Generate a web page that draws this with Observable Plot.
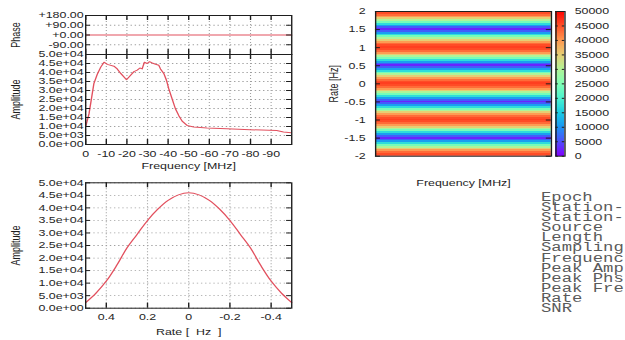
<!DOCTYPE html>
<html><head><meta charset="utf-8">
<script src="https://cdn.jsdelivr.net/npm/d3@7"></script>
<script src="https://cdn.jsdelivr.net/npm/@observablehq/plot@0.6"></script>
<style>
html,body{margin:0;padding:0;background:#fff;overflow:hidden;width:625px;height:340px;}
#fig{position:absolute;left:0;top:0;width:453px;height:340px;transform:scaleX(1.38);transform-origin:0 0;}
#info{position:absolute;font-family:"Liberation Mono","Courier New",monospace;font-size:12.5px;line-height:10.1px;color:#5a5a5a;white-space:pre;margin:0;}
</style></head><body><div id="fig"></div>
<script>
// ---------- data ----------
const freqDomain = [0, -100];
const freqTicks = [0, -10, -20, -30, -40, -50, -60, -70, -80, -90];
const freqTickLabels = ["0", "-10", "-20", "-30", "-40", "-50", "-60", "-70", "-80", "-90"];

const phaseTicks = [180, 90, 0, -90];
const phaseTickLabels = ["+180.00", "+90.00", "+0.00", "-90.00"];
const phaseFreq = [0, -100];
const phaseDeg = [0, 0];

const ampTicks = [0, 5000, 10000, 15000, 20000, 25000, 30000, 35000, 40000, 45000, 50000];
const ampTickLabels = ["0.0e+00", "5.0e+03", "1.0e+04", "1.5e+04", "2.0e+04", "2.5e+04", "3.0e+04", "3.5e+04", "4.0e+04", "4.5e+04", "5.0e+04"];

const freqMHz = [0, -1.6, -4, -5.6, -7.3, -8.9, -10.5, -13.7, -15.3, -17, -19.8, -21.8, -23.4, -25, -26.3, -27.4, -28.5, -29.8, -31, -32.3, -33.9, -35.5, -36.3, -37.9, -39.2, -40.3, -41.9, -43.5, -45.2, -46.8, -49.2, -52.4, -58.9, -68.5, -79.8, -92.7, -96, -99.7];
const freqAmp = [10000, 17000, 34000, 39000, 43000, 45700, 44500, 43500, 42000, 39500, 36000, 38500, 40500, 41300, 42500, 42000, 45700, 45000, 46000, 45300, 44600, 44000, 42000, 39500, 35700, 31000, 25500, 20000, 16000, 13000, 10600, 9700, 9100, 8700, 8200, 7800, 6900, 6500];

const rateTicks = [0.4, 0.2, 0, -0.2, -0.4];
const rateTickLabels = ["0.4", "0.2", "0", "-0.2", "-0.4"];
const rateHz = [0.5, 0.45, 0.4, 0.35, 0.3, 0.25, 0.2, 0.15, 0.1, 0.05, 0, -0.05, -0.1, -0.15, -0.2, -0.25, -0.3, -0.35, -0.4, -0.45, -0.5];
const rateAmp = [2200, 6000, 10800, 17000, 24000, 29500, 35000, 39500, 43000, 45200, 46000, 45200, 43000, 39500, 35000, 29500, 24000, 17000, 10800, 6000, 2200];

const heatTicks = [2, 1.5, 1, 0.5, 0, -0.5, -1, -1.5, -2];
const heatTickLabels = ["2", "1.5", "1", "0.5", "0", "-0.5", "-1", "-1.5", "-2"];
const bandCenters = [-2, -1, 0, 1, 2];

const cbTicks = [0, 5000, 10000, 15000, 20000, 25000, 30000, 35000, 40000, 45000, 50000];
const cbTickLabels = ["0", "5000", "10000", "15000", "20000", "25000", "30000", "35000", "40000", "45000", "50000"];
const palette = ["#8000ff", "#4d4ffc", "#1a96f3", "#1acee3", "#4df3ce", "#80ffb4", "#b3f396", "#e6ce74", "#ff964f", "#ff4f28", "#ff0000"];

const infoLabels = ["Epoch", "Station-", "Station-", "Source", "Length", "Sampling", "Frequenc", "Peak Amp", "Peak Phs", "Peak Fre", "Rate", "SNR"];

// ---------- layout / style ----------
const fig = document.getElementById("fig");
const VW = 453, VH = 340;
const FONT = '"Liberation Sans", Arial, Helvetica, sans-serif';
const INK = "#1e1e1e";
const CURVE = "#e2505e";
const GRID = {stroke: "#a0a0a0", strokeOpacity: 1, strokeDasharray: "1,2", strokeWidth: 0.8};
const style = {fontFamily: FONT, fontSize: "9px", color: INK, background: "transparent", overflow: "visible"};

function frameBox(l, t, r, b) {
  return {width: VW, height: VH, marginLeft: l, marginTop: t, marginRight: VW - r, marginBottom: VH - b};
}
function add(p) { p.style.position = "absolute"; p.style.left = "0"; p.style.top = "0"; fig.appendChild(p); }
function yTicksIn(ticks, fw, len) {
  return [Plot.tickY(ticks, {y: d => d, insetRight: fw - len, stroke: INK}),
          Plot.tickY(ticks, {y: d => d, insetLeft: fw - len, stroke: INK})];
}
function xTicksIn(ticks, fh, len) {
  return [Plot.tickX(ticks, {x: d => d, insetTop: fh - len, stroke: INK}),
          Plot.tickX(ticks, {x: d => d, insetBottom: fh - len, stroke: INK})];
}
const lab = (arr, labels) => d => labels[arr.indexOf(d)];
const colorScale = {type: "linear", domain: cbTicks, range: palette};

const L = 61.6, R = 210.9, FW = R - L;

// Phase panel
add(Plot.plot({
  ...frameBox(L, 15, R, 54), style,
  x: {domain: freqDomain, axis: null},
  y: {domain: [-180, 180], axis: null},
  marks: [
    Plot.gridX(freqTicks, GRID),
    Plot.gridY([90, -90], GRID),
    Plot.line(phaseDeg, {x: phaseFreq, y: phaseDeg, stroke: CURVE, strokeWidth: 1}),
    ...yTicksIn(phaseTicks, FW, 3.6),
    ...xTicksIn(freqTicks, 39, 5),
    Plot.frame({stroke: INK}),
    Plot.axisY(phaseTicks, {anchor: "left", tickSize: 0, tickPadding: 1.5, tickFormat: lab(phaseTicks, phaseTickLabels)}),
    Plot.text(["Phase"], {text: d => d, frameAnchor: "left", dx: -50.7, rotate: -90, textAnchor: "middle", lineAnchor: "middle"})
  ]
}));

// Amplitude vs frequency
add(Plot.plot({
  ...frameBox(L, 54, R, 144), style,
  x: {domain: freqDomain, axis: null},
  y: {domain: [0, 50000], axis: null},
  marks: [
    Plot.gridX(freqTicks, GRID),
    Plot.gridY(ampTicks, GRID),
    Plot.line(freqAmp, {x: freqMHz, y: freqAmp, stroke: CURVE, strokeWidth: 1}),
    ...yTicksIn(ampTicks, FW, 3.6),
    ...xTicksIn(freqTicks, 90, 5),
    Plot.frame({stroke: INK}),
    Plot.axisY(ampTicks, {anchor: "left", tickSize: 0, tickPadding: 1.5, tickFormat: lab(ampTicks, ampTickLabels)}),
    Plot.axisX(freqTicks, {anchor: "bottom", tickSize: 0, tickPadding: 6.5, tickFormat: lab(freqTicks, freqTickLabels)}),
    Plot.text(["Amplitude"], {text: d => d, frameAnchor: "left", dx: -50.7, rotate: -90, textAnchor: "middle", lineAnchor: "middle"}),
    Plot.text(["Frequency [MHz]"], {text: d => d, frameAnchor: "bottom", dy: 21.7, lineAnchor: "middle"})
  ]
}));

// Amplitude vs rate
add(Plot.plot({
  ...frameBox(L, 182.3, R, 307.7), style,
  x: {domain: [0.5, -0.5], axis: null},
  y: {domain: [0, 50000], axis: null},
  marks: [
    Plot.gridX(rateTicks, GRID),
    Plot.gridY(ampTicks, GRID),
    Plot.line(rateAmp, {x: rateHz, y: rateAmp, curve: "catmull-rom", stroke: CURVE, strokeWidth: 1}),
    ...yTicksIn(ampTicks, FW, 3.6),
    ...xTicksIn(rateTicks, 125.4, 5),
    Plot.frame({stroke: INK}),
    Plot.axisY(ampTicks, {anchor: "left", tickSize: 0, tickPadding: 1.5, tickFormat: lab(ampTicks, ampTickLabels)}),
    Plot.axisX(rateTicks, {anchor: "bottom", tickSize: 0, tickPadding: 5, tickFormat: lab(rateTicks, rateTickLabels)}),
    Plot.text(["Amplitude"], {text: d => d, frameAnchor: "left", dx: -50.7, rotate: -90, textAnchor: "middle", lineAnchor: "middle"}),
    Plot.text(["Rate [\u00a0\u00a0Hz\u00a0\u00a0]"], {text: d => d, frameAnchor: "bottom", dy: 24, lineAnchor: "middle"})
  ]
}));

// Heatmap
const heatRows = bandCenters.flatMap(c => rateHz.map((r, i) => ({rate: c + r, amp: rateAmp[i]})))
  .filter(d => d.rate >= -2.05 && d.rate <= 2.05);
const HL = 271.7, HR = 399.1;
add(Plot.plot({
  ...frameBox(HL, 11, HR, 155.7), style,
  x: {domain: freqDomain, axis: null},
  y: {domain: [-2, 2], axis: null},
  color: colorScale,
  marks: [
    Plot.rect(heatRows, {x1: () => freqDomain[0], x2: () => freqDomain[1], y1: d => d.rate - 0.025, y2: d => d.rate + 0.025, fill: "amp", clip: true, shapeRendering: "crispEdges"}),
    ...yTicksIn(heatTicks, HR - HL, 3.6),
    Plot.frame({stroke: INK}),
    Plot.axisY(heatTicks, {anchor: "left", tickSize: 0, tickPadding: 7.2, tickFormat: lab(heatTicks, heatTickLabels)}),
    Plot.text(["Rate [Hz]"], {text: d => d, frameAnchor: "left", dx: -30.4, rotate: -90, textAnchor: "middle", lineAnchor: "middle"}),
    Plot.text(["Frequency [MHz]"], {text: d => d, frameAnchor: "bottom", dy: 27, lineAnchor: "middle"})
  ]
}));

// Colorbar
const cbStep = 250;
const cbSteps = d3.range(0, 50000, cbStep);
add(Plot.plot({
  ...frameBox(402.4, 11, 408.9, 155.7), style,
  x: {domain: [0, 1], axis: null},
  y: {domain: [0, 50000], axis: null},
  color: colorScale,
  marks: [
    Plot.rect(cbSteps, {x1: () => 0, x2: () => 1, y1: d => d, y2: d => d + cbStep, fill: d => d + cbStep / 2, shapeRendering: "crispEdges"}),
    ...yTicksIn(cbTicks, 6.5, 1.8),
    Plot.frame({stroke: INK}),
    Plot.axisY(cbTicks, {anchor: "right", tickSize: 0, tickPadding: 7, tickFormat: lab(cbTicks, cbTickLabels)})
  ]
}));

// Info text block
const info = document.createElement("div");
info.id = "info";
info.style.left = "392px";
info.style.top = "193px";
info.textContent = infoLabels.join("\n");
fig.appendChild(info);
</script>
</body></html>
